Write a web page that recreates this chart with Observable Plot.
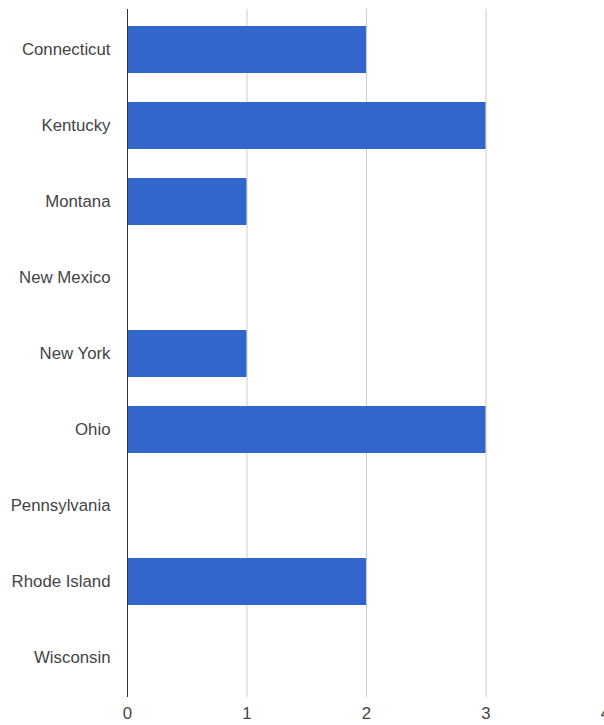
<!DOCTYPE html>
<html>
<head>
<meta charset="utf-8">
<script src="https://cdn.jsdelivr.net/npm/d3@7"></script>
<script src="https://cdn.jsdelivr.net/npm/@observablehq/plot@0.6"></script>
<style>
  html, body { margin: 0; padding: 0; background: #fff; }
</style>
</head>
<body>
<div id="chart"></div>
<script>
const states = ["Connecticut", "Kentucky", "Montana", "New Mexico", "New York", "Ohio", "Pennsylvania", "Rhode Island", "Wisconsin"];
const counts = [2, 3, 1, 0, 1, 3, 0, 2, 0];
const xTicks = [0, 1, 2, 3, 4];
const gridTicks = [1, 2, 3, 4];

const data = states.map((s, i) => ({state: s, count: counts[i]}));

const chart = Plot.plot({
  width: 604,
  height: 725,
  marginLeft: 127,
  marginRight: 0,
  marginTop: 9,
  marginBottom: 28,
  style: {fontFamily: "'Liberation Sans', Arial, sans-serif", fontSize: "16.8px", color: "#444", background: "#fff"},
  x: {domain: [0, 4], range: [127, 605], ticks: xTicks, tickSize: 0, tickPadding: 10, label: null, tickFormat: d3.format("d")},
  y: {domain: states, paddingInner: 0.385, paddingOuter: 0.1925, tickSize: 0, tickPadding: 17, label: null},
  marks: [
    Plot.ruleX(gridTicks, {stroke: "#cccccc", strokeWidth: 1}),
    Plot.barX(data, {y: "state", x: "count", fill: "#3366cc"}),
    Plot.ruleX([0], {stroke: "#333333", strokeWidth: 1})
  ]
});
document.getElementById("chart").appendChild(chart);
</script>
</body>
</html>
